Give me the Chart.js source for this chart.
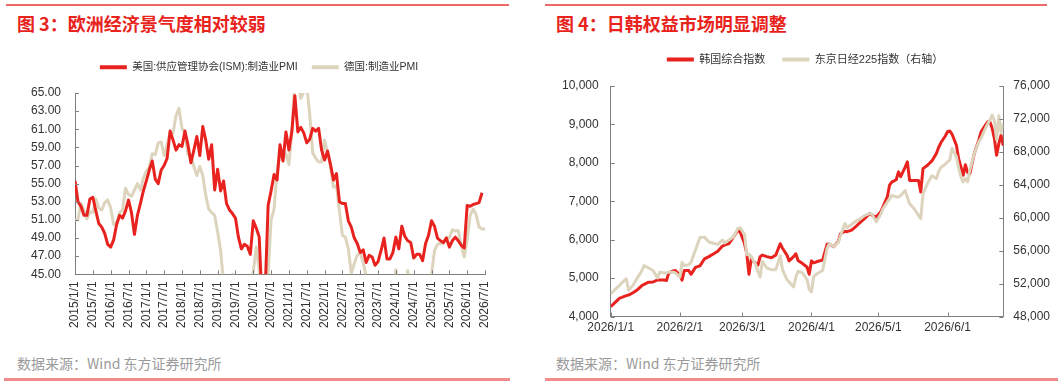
<!DOCTYPE html>
<html>
<head>
<meta charset="utf-8">
<script src="https://cdn.jsdelivr.net/npm/chart.js@4.4.1/dist/chart.umd.min.js"></script>
<style>
body{margin:0;width:1061px;height:382px;background:#fff;position:relative;overflow:hidden;}
.topline{position:absolute;top:4px;height:0;border-top:2px solid #ec6a6a;}
.botline{position:absolute;top:378px;height:0;border-top:3px solid #f08c8c;}
.title{position:absolute;top:10px;line-height:20px;font:bold 18px "Noto Sans CJK SC",sans-serif;color:#e8231c;white-space:nowrap;}
.source{position:absolute;top:353px;line-height:16px;font:14px "Noto Sans CJK SC",sans-serif;color:#9a9a9a;white-space:nowrap;}
.box{position:absolute;}
</style>
</head>
<body>
<div class="topline" style="left:6px;width:503px"></div>
<div class="topline" style="left:545px;width:502px"></div>
<div class="title" style="left:17px">图 3：欧洲经济景气度相对较弱</div>
<div class="title" style="left:556px">图 4：日韩权益市场明显调整</div>

<div class="box" style="left:0;top:48px"><canvas id="pmiChart" width="520" height="292"></canvas></div>
<div class="box" style="left:545px;top:37px"><canvas id="stockChart" width="516" height="303"></canvas></div>

<div class="source" style="left:17px">数据来源：Wind 东方证券研究所</div>
<div class="source" style="left:556px">数据来源：Wind 东方证券研究所</div>
<div class="botline" style="left:4px;width:506px"></div>
<div class="botline" style="left:545px;width:513px"></div>

<script>
// 图3 : 月度 PMI (2015/1 起)
var ismPmi = [
  55.3, 53.0, 52.5, 51.5, 51.5, 53.3, 53.5, 52.0, 50.6, 50.2, 49.5, 48.3,
  48.0, 48.8, 50.5, 51.5, 51.2, 52.0, 53.2, 51.8, 49.4, 51.5, 52.8, 54.2,
  55.3, 56.5, 57.5, 55.5, 55.0, 56.5, 57.0, 57.8, 60.8, 59.8, 58.7, 59.3,
  59.1, 60.8, 59.3, 57.3, 58.7, 60.2, 58.1, 61.3, 59.8, 57.7, 59.3, 54.3,
  56.6, 54.2, 55.3, 52.8, 52.1, 51.7, 51.2, 49.1, 47.8, 48.3, 48.1, 47.2,
  50.9, 50.1, 49.1, 41.5, 43.1, 52.6, 54.2, 56.0, 55.4, 59.3, 57.5, 60.7,
  58.7, 60.8, 64.7, 60.7, 61.2, 60.6, 59.5, 59.9, 61.1, 60.8, 61.1, 58.7,
  57.6, 58.6, 57.1, 55.4, 56.1, 53.0, 52.8, 52.8, 50.9, 50.2, 49.0, 48.4,
  47.4, 47.7, 46.3, 47.1, 46.9, 46.0, 46.4, 47.6, 49.0, 46.7, 46.7, 47.4,
  49.1, 47.8, 50.3, 49.2, 48.7, 48.5, 46.8, 47.2, 47.2, 46.5, 48.4, 49.3,
  50.9, 50.3, 49.0, 48.7, 48.5, 49.0, 48.0, 48.7, 49.1, 48.7, 48.2, 47.9,
  52.6, 52.5, 52.7, 52.8, 52.9, 54.0
];
var germanPmi = [
  50.9, 51.1, 52.8, 52.1, 51.1, 51.9, 51.8, 53.3, 52.3, 52.1, 52.9, 53.2,
  52.3, 50.5, 50.7, 51.8, 52.1, 54.5, 53.8, 53.6, 54.3, 55.0, 54.3, 55.6,
  56.4, 56.8, 58.3, 58.2, 59.5, 59.6, 58.1, 59.3, 60.6, 60.6, 62.5, 63.3,
  61.1, 60.6, 58.2, 58.1, 56.9, 55.9, 56.9, 55.9, 53.7, 52.2, 51.8, 51.5,
  49.7, 47.6, 44.1, 44.4, 44.3, 45.0, 43.2, 43.5, 41.7, 42.1, 44.1, 43.7,
  45.3, 48.0, 45.4, 34.5, 36.6, 45.2, 51.0, 52.2, 56.4, 58.2, 57.8, 58.3,
  57.1, 60.7, 66.6, 66.2, 64.4, 65.1, 65.9, 62.6, 58.4, 57.8, 57.4, 57.4,
  59.8, 58.4, 56.9, 54.6, 54.8, 52.0, 49.3, 49.1, 47.8, 45.1, 46.2, 47.1,
  47.3, 46.3, 44.7, 44.5, 43.2, 40.6, 38.8, 39.1, 39.6, 40.8, 42.6, 43.3,
  45.5, 42.5, 41.9, 42.5, 45.4, 43.5, 43.2, 42.4, 40.6, 43.0, 43.0, 42.5,
  45.0, 47.6, 48.3, 48.4, 48.4, 49.1, 49.0, 49.9, 49.8, 49.8, 48.2, 46.9,
  48.8, 51.5, 52.2, 51.6, 50.2, 50.0, 50.0
];

// 图4 : 2026/1/1 起的天数
var tradeDays = [0,2,4,5,7,8,10,12,14,15,17,19,21,22,24,25,26,28,29,31,32,33,35,36,38,40,42,44,46,48,50,51,53,55,57,58,60,61,62,63,65,66,67,68,70,72,74,76,77,79,80,82,83,84,86,88,89,90,91,93,95,97,98,100,102,103,105,106,108,110,112,114,116,117,119,121,122,124,125,126,128,129,130,132,133,134,136,138,139,140,142,144,146,147,148,150,151,152,153,155,156,157,158,159,160,161,163,165,166,168,169,170,171,172,173,174,175,176];
var kospi = [4260,4370,4480,4500,4546,4560,4620,4700,4808,4840,4895,4900,4955,4955,4950,4937,5130,5190,5200,5080,4950,5200,5200,5100,5280,5320,5500,5560,5630,5700,5830,5860,5900,6069,6250,6200,5900,5634,5100,5500,5380,5340,5560,5600,5560,5530,5600,5895,5780,5600,5450,5560,5634,5460,5380,5290,5100,5450,5400,5440,5470,5880,5890,5820,5950,6150,6220,6210,6250,6350,6460,6560,6680,6640,6590,6720,6850,7113,7420,7500,7560,7765,7640,7890,8026,7543,7543,7543,7243,7850,7937,8050,8243,8400,8522,8700,8809,8830,8750,8450,8100,7893,7676,7950,7750,7720,8243,8590,8800,8983,9070,9070,8900,8635,8200,8500,8720,8450];
var nikkei = [50770,51300,51800,52100,52600,51200,51800,52700,53600,54200,53900,53600,52700,53400,53300,53300,53400,53400,53300,52800,54600,54200,54300,54600,56100,57600,57650,57050,56900,56770,57300,56950,57300,57663,58700,58800,58000,55500,55600,55300,54300,53500,52800,54700,53900,53700,53700,55400,53700,52500,52200,51600,52800,53500,53300,52500,51300,51000,52900,53300,53600,56300,56850,56500,57000,57800,59300,58800,59200,59600,59900,60300,60500,60500,59500,60400,61100,61920,62300,62730,62530,62530,62700,63300,62500,61700,61110,60300,59890,62900,64155,65100,64760,65600,66100,66500,66790,66990,68410,67400,66000,65000,64360,64760,64360,65800,67800,69230,69630,70850,71400,71860,72470,71800,69500,72400,70300,71450];
var monthStartDays = [0, 31, 59, 90, 120, 151];
var monthLabels = ['2026/1/1', '2026/2/1', '2026/3/1', '2026/4/1', '2026/5/1', '2026/6/1'];

var RED = '#e8231f';
var BEIGE = '#ddd4bd';
var AXIS = '#7f7f7f';

// 月份标签 2015/1/1 ~ 2026/7/1
var months = [];
for (var y = 2015; y <= 2026; y++) {
    for (var m = 1; m <= 12; m++) {
        if (y < 2026 || m <= 7) months.push(y + '/' + m + '/1');
    }
}

Chart.defaults.font.family = '"Liberation Sans", "Noto Sans CJK SC", sans-serif';
Chart.defaults.font.size = 12;
Chart.defaults.color = '#333';

// 刻度线朝内
var innerTicks = {
    id: 'innerTicks',
    afterDatasetsDraw: function(chart) {
        var ctx = chart.ctx;
        ctx.save();
        ctx.strokeStyle = AXIS;
        ctx.lineWidth = 1;
        Object.values(chart.scales).forEach(function(scale) {
            scale.ticks.forEach(function(t, i) {
                var p = Math.round(scale.getPixelForTick(i)) + 0.5;
                ctx.beginPath();
                if (scale.axis === 'x') {
                    ctx.moveTo(p, scale.top); ctx.lineTo(p, scale.top - 4);
                } else if (scale.position === 'left') {
                    ctx.moveTo(scale.right, p); ctx.lineTo(scale.right + 4, p);
                } else {
                    ctx.moveTo(scale.left, p); ctx.lineTo(scale.left - 4, p);
                }
                ctx.stroke();
            });
        });
        ctx.restore();
    }
};

// 图例下方留白 + 水平微调
function legendPlace(extra, dx) {
    return {
        id: 'legendPlace',
        beforeInit: function(chart) {
            var fit = chart.legend.fit;
            chart.legend.fit = function() {
                fit.bind(chart.legend)();
                this.height += extra;
            };
        },
        afterLayout: function(chart) {
            chart.legend.left += dx;
            chart.legend.right += dx;
        }
    };
}

function legendOpts(pad, size) {
    return {
        position: 'top',
        labels: {
            boxWidth: 27, boxHeight: 4, padding: pad, color: '#333', font: {size: size},
            sort: function(a, b) { return a.datasetIndex - b.datasetIndex; },
            generateLabels: function(chart) {
                return Chart.defaults.plugins.legend.labels.generateLabels(chart).map(function(it) {
                    it.lineWidth = 0;
                    it.fillStyle = it.strokeStyle;
                    return it;
                });
            }
        }
    };
}

function lineSet(label, data, color, yAxis, order) {
    return {
        label: label, data: data, borderColor: color, backgroundColor: color,
        borderWidth: 3, borderJoinStyle: 'round', pointRadius: 0, tension: 0, clip: 0,
        yAxisID: yAxis, order: order
    };
}

new Chart(document.getElementById('pmiChart'), {
    type: 'line',
    data: {
        labels: months,
        datasets: [
            lineSet('美国:供应管理协会(ISM):制造业PMI', ismPmi, RED, 'y', 0),
            lineSet('德国:制造业PMI', germanPmi, BEIGE, 'y', 1)
        ]
    },
    options: {
        responsive: false,
        animation: false,
        layout: {padding: {left: 17, right: 35, top: 0, bottom: 5}},
        plugins: {legend: legendOpts(14, 10.5), tooltip: {enabled: false}},
        scales: {
            x: {
                grid: {display: false, drawTicks: false},
                border: {color: AXIS},
                afterBuildTicks: function(s) {
                    s.ticks = s.ticks.filter(function(t) { return t.value % 6 === 0; });
                },
                ticks: {autoSkip: false, minRotation: 90, maxRotation: 90, padding: 7}
            },
            y: {
                min: 45, max: 65,
                grid: {display: false, drawTicks: false},
                border: {color: AXIS},
                ticks: {stepSize: 2, padding: 14, callback: function(v) { return v.toFixed(2); }}
            }
        }
    },
    plugins: [innerTicks, legendPlace(10.5, 8)]
});

function toPoints(vals) {
    return tradeDays.map(function(d, i) { return {x: d, y: vals[i]}; });
}

new Chart(document.getElementById('stockChart'), {
    type: 'line',
    data: {
        datasets: [
            lineSet('韩国综合指数', toPoints(kospi), RED, 'y', 1),
            lineSet('东京日经225指数（右轴）', toPoints(nikkei), BEIGE, 'y1', 0)
        ]
    },
    options: {
        responsive: false,
        animation: false,
        layout: {padding: {left: 5, right: 1, top: 0, bottom: 1}},
        plugins: {legend: legendOpts(17, 11), tooltip: {enabled: false}},
        scales: {
            x: {
                type: 'linear', min: 0, max: 176,
                grid: {display: false, drawTicks: false},
                border: {color: AXIS},
                afterBuildTicks: function(s) {
                    s.ticks = monthStartDays.map(function(d) { return {value: d}; });
                },
                ticks: {autoSkip: false, maxRotation: 0, padding: 4,
                    callback: function(v, i) { return monthLabels[i]; }}
            },
            y: {
                position: 'left', min: 4000, max: 10000,
                grid: {display: false, drawTicks: false},
                border: {color: AXIS},
                ticks: {stepSize: 1000, padding: 12, callback: function(v) { return v.toLocaleString('en-US'); }}
            },
            y1: {
                position: 'right', min: 48000, max: 76000,
                grid: {display: false, drawTicks: false},
                border: {color: AXIS},
                ticks: {stepSize: 4000, padding: 10, callback: function(v) { return v.toLocaleString('en-US'); }}
            }
        }
    },
    plugins: [innerTicks, legendPlace(11, 0)]
});
</script>
</body>
</html>
